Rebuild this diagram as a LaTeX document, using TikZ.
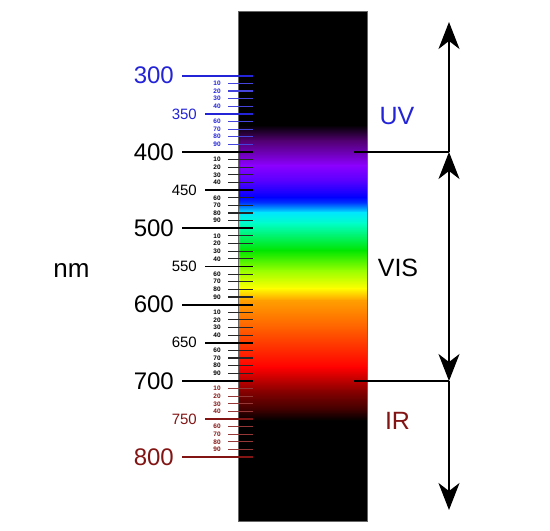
\documentclass[tikz,border=0pt]{standalone}
\usepackage{fontspec}
\setmainfont{Liberation Sans}
\usetikzlibrary{arrows.meta}

% colours of the spectrum, top to bottom
\definecolor{uvblue}{RGB}{35,35,215}
\definecolor{irred}{RGB}{130,20,20}
\definecolor{specA}{RGB}{80,0,110}
\definecolor{specB}{RGB}{140,0,255}
\definecolor{specC}{RGB}{90,0,255}
\definecolor{specD}{RGB}{0,0,255}
\definecolor{specE}{RGB}{0,60,255}
\definecolor{specF}{RGB}{0,230,255}
\definecolor{specG}{RGB}{0,255,200}
\definecolor{specH}{RGB}{0,230,0}
\definecolor{specI}{RGB}{150,255,0}
\definecolor{specJ}{RGB}{255,255,0}
\definecolor{specK}{RGB}{255,160,0}
\definecolor{specL}{RGB}{255,90,0}
\definecolor{specM}{RGB}{255,0,0}
\definecolor{specN}{RGB}{140,0,0}
\definecolor{specO}{RGB}{60,0,0}

\begin{document}
\begin{tikzpicture}[x=1pt, y=-1pt,
	major/.style={line width=1.8pt},
	minor/.style={line width=1.1pt},
	bignum/.style={anchor=east, inner sep=0pt, font=\fontsize{24}{24}\selectfont},
	midnum/.style={anchor=east, inner sep=0pt, font=\fontsize{15}{15}\selectfont},
	tinynum/.style={inner sep=0pt, font=\fontsize{6.5}{6.5}\selectfont\bfseries},
	region/.style={anchor=base, inner sep=0pt, font=\fontsize{25}{25}\selectfont},
	edge/.style={line width=1.6pt},
	band/.style={line width=1.6pt, -{Stealth[length=27pt, width=21pt, inset=8pt]}},
	bandboth/.style={line width=1.6pt, {Stealth[length=27pt, width=21pt, inset=8pt]}-{Stealth[length=27pt, width=21pt, inset=8pt]}},
	]

	\useasboundingbox (0,0) rectangle (550,531);

	% the strip: black, with the visible band shaded in pieces
	\fill[black] (238,11) rectangle (367,521);
	\foreach \ya/\ca/\yb/\cb in {125/black/140/specA, 140/specA/165/specB,
		165/specB/180/specC, 180/specC/197/specD, 197/specD/203/specE,
		203/specE/212/specF, 212/specF/223/specG, 223/specG/250/specH,
		250/specH/270/specI, 270/specI/288/specJ, 288/specJ/300/specK,
		300/specK/330/specL, 330/specL/367/specM, 367/specM/390/specN,
		390/specN/410/specO, 410/specO/420/black}
		\shade[top color=\ca, bottom color=\cb] (238,\ya) rectangle (367,\yb+0.6);
	\draw[black!60, line width=0.8pt] (238,11) rectangle (367,521);

	% the scale, one tick every 10 nm
	\foreach \w in {300,310,...,800}{
		\pgfmathsetmacro{\yy}{75.7+(\w-300)*0.763}
		\pgfmathtruncatemacro{\r}{mod(\w,100)}
		\pgfmathtruncatemacro{\h}{mod(\w,50)}
		\ifnum\w<400 \def\tc{uvblue}\else\ifnum\w>700 \def\tc{irred}\else\def\tc{black}\fi\fi
		\ifnum\r=0
			\draw[major, \tc] (182,\yy) -- (253,\yy);
			\node[bignum, text=\tc] (lab\w) at (174,\yy) {\w};
		\else\ifnum\h=0
			\draw[major, \tc] (205,\yy) -- (253,\yy);
			\node[midnum, text=\tc] (lab\w) at (197,\yy) {\w};
		\else
			\draw[minor, \tc!85] (228,\yy) -- (253,\yy);
			\node[tinynum, text=\tc] (lab\w) at (217,\yy) {\r};
		\fi\fi
	}

	% the ranges on the right
	\coordinate (s400) at (354,152);
	\coordinate (s700) at (354,381);
	\coordinate (top) at (449,22);
	\coordinate (vistop) at (449,152);
	\coordinate (visbot) at (449,381);
	\coordinate (bot) at (449,510);

	\draw[edge] (s400) -- (vistop);
	\draw[edge] (s700) -- (visbot);
	\draw[band] (vistop) -- (top);
	\draw[bandboth] (visbot) -- (vistop);
	\draw[band] (visbot) -- (bot);

	\node[region, text=uvblue] (uv) at (397,124) {UV};
	\node[region] (vis) at (398,276) {VIS};
	\node[region, text=irred] (ir) at (397.5,429) {IR};
	\node[region, font=\fontsize{26}{26}\selectfont] (nm) at (71.5,277) {nm};

\end{tikzpicture}
\end{document}
